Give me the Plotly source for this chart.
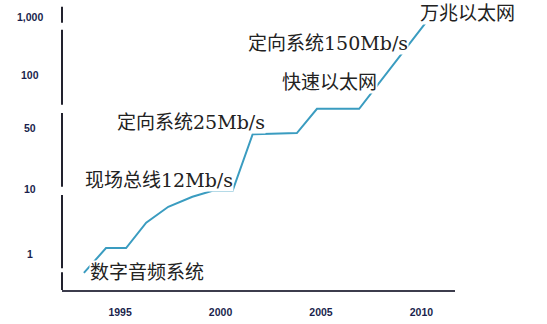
import plotly.graph_objects as go

# Growth of fieldbus / network bandwidth over time (position on the rate scale)
years = [1993.2, 1994.3, 1995.3, 1996.3, 1997.4, 1998.6, 1999.6,
         2000.6, 2001.6, 2003.8, 2004.8, 2006.9, 2010.4]
rate_level = [-0.32, 0.10, 0.10, 0.53, 0.80, 0.97, 1.07,
              1.07, 2.03, 2.05, 2.46, 2.46, 4.0]

# Rate scale ticks (Mb/s)
y_tick_pos = [0, 1.10, 2.14, 3.03, 4.02]
y_tick_text = ["1", "10", "50", "100", "1,000"]

x_tick_vals = [1995, 2000, 2005, 2010]

# Technology milestones
milestones = ["数字音频系统", "现场总线12Mb/s", "定向系统25Mb/s",
              "快速以太网", "定向系统150Mb/s", "万兆以太网"]
milestone_x = [1993.45, 1993.2, 1994.8, 2003.0, 2001.3, 2009.9]
milestone_y = [-0.31, 1.25, 2.24, 2.92, 3.58, 4.08]

# Broken vertical axis: visible pieces (low, high)
axis_pieces = [(3.92, 4.19), (2.53, 3.80), (1.14, 2.39), (-0.24, 1.0), (-0.61, -0.31)]

X_RANGE = [1992.11, 2011.67]
Y_RANGE = [-0.61, 4.22]

TICK_FONT = dict(family="Liberation Sans, Arial, sans-serif", size=10.5, color="#1a1f4d")
LABEL_FONT = dict(family="DejaVu Serif, Noto Sans CJK SC, serif", size=19, color="#222222")

fig = go.Figure()
fig.add_trace(go.Scatter(
    x=years, y=rate_level, mode="lines",
    line=dict(color="#3a9cc0", width=2),
    hoverinfo="skip", showlegend=False,
))

for lo, hi in axis_pieces:
    fig.add_shape(type="line", xref="paper", yref="y", x0=0, x1=0, y0=lo, y1=hi,
                  line=dict(color="#22222e", width=2), layer="above")

for pos, txt in zip(y_tick_pos, y_tick_text):
    fig.add_annotation(xref="paper", yref="y", x=0, y=pos, xshift=-32,
                       text=f"<b>{txt}</b>", showarrow=False,
                       xanchor="center", yanchor="middle", font=TICK_FONT)

for name, mx, my in zip(milestones, milestone_x, milestone_y):
    fig.add_annotation(xref="x", yref="y", x=mx, y=my, text=name, showarrow=False,
                       xanchor="left", yanchor="middle", bgcolor="white",
                       borderpad=0, font=LABEL_FONT)

fig.update_layout(
    width=547, height=324,
    margin=dict(l=62, r=92, t=5, b=34),
    paper_bgcolor="white", plot_bgcolor="white",
    xaxis=dict(range=X_RANGE, tickvals=x_tick_vals,
               ticktext=[f"<b>{v}</b>" for v in x_tick_vals],
               showgrid=False, zeroline=False, showline=True,
               linecolor="#3c3c4c", linewidth=1.5, ticks="",
               ticklabelstandoff=12, tickfont=TICK_FONT),
    yaxis=dict(range=Y_RANGE, showgrid=False, zeroline=False, showline=False,
               showticklabels=False, ticks=""),
)

fig.write_html("out.html")
